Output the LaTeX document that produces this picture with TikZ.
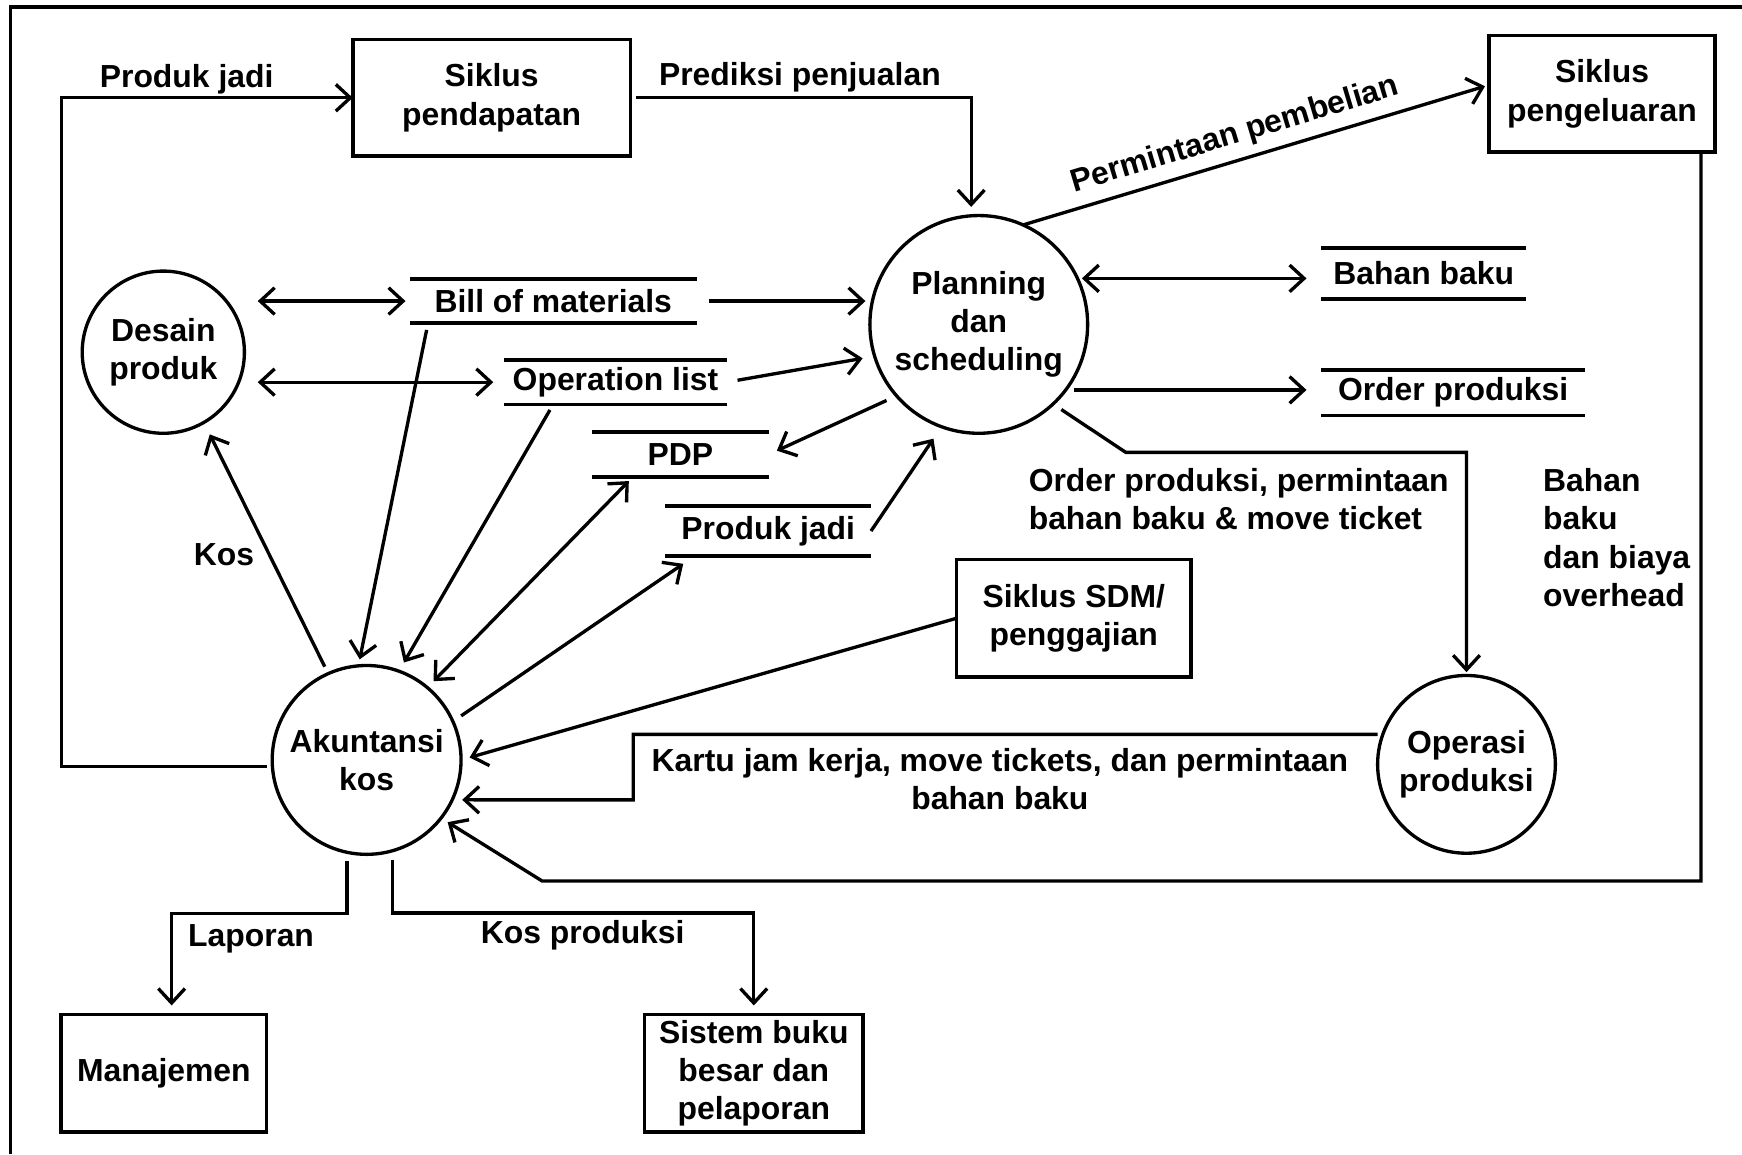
\documentclass[tikz,border=0pt]{standalone}
\usepackage{fontspec}
\setmainfont{Liberation Sans}
\usetikzlibrary{arrows.meta,calc}
\begin{document}
\begin{tikzpicture}[x=1pt,y=-1pt,line width=3pt,
  >={Straight Barb[length=13pt,width=24pt]},
  every node/.style={font=\fontsize{28.7pt}{34.5pt}\selectfont\bfseries, inner sep=0pt, outer sep=0pt},
  proc/.style={draw, circle, line width=3pt, minimum size=#1, align=center},
  ent/.style={draw, rectangle, line width=3.2pt, align=center},
  store/.style={align=center},
  storeline/.style={line width=3.4pt},
  lbl/.style={anchor=base},
]
\useasboundingbox (0,0) rectangle (1568,1039);

% outer frame
\draw[line width=3.4pt] (9.5,1039) -- (9.5,6.5) -- (1568,6.5);

% external entities
\node[ent, minimum width=250pt, minimum height=105pt] (pend) at (442.5,88) {Siklus\\pendapatan};
\node[ent, minimum width=203pt, minimum height=105pt] (peng) at (1442,84.5) {Siklus\\pengeluaran};
\node[ent, minimum width=211pt, minimum height=106pt] (sdm) at (966.5,556.5) {Siklus SDM/\\penggajian};
\node[ent, minimum width=185pt, minimum height=106pt] (man) at (147.5,966) {Manajemen};
\node[ent, minimum width=197pt, minimum height=106pt] (sbb) at (678.5,966) {Sistem buku\\besar dan\\pelaporan};

% processes
\node[proc=196pt] (plan) at (881,292) {Planning\\dan\\scheduling};
\node[proc=146pt] (desain) at (147,317) {Desain\\produk};
\node[proc=170pt] (akun) at (330,684) {Akuntansi\\kos};
\node[proc=160pt] (ops) at (1320,688) {Operasi\\produksi};

% data stores
\node[store, minimum width=258pt, minimum height=40pt] (bom) at (498,271) {Bill of materials};
\node[store, minimum width=200pt, minimum height=40pt] (opl) at (554,344) {Operation list};
\node[store, minimum width=159pt, minimum height=40pt] (pdp) at (612.5,409) {PDP};
\node[store, minimum width=185pt, minimum height=45pt] (pj) at (691.5,478) {Produk jadi};
\node[store, minimum width=185pt, minimum height=46pt] (bb) at (1281.5,246) {Bahan baku};
\node[store, minimum width=238pt, minimum height=41pt] (op) at (1308,353.5) {Order produksi};
\foreach \s in {bom,opl,pdp,pj,bb,op}
  \draw[storeline] (\s.north west) -- (\s.north east) (\s.south west) -- (\s.south east);

% finished goods to revenue cycle
\draw[->, shorten <=5pt] (akun.184) -- ++(-190,0) |- (pend.west);
\node[lbl] (lpj) at (168,78.6) {Produk jadi};

% sales forecast
\draw[->, shorten <=5pt, shorten >=8pt] (pend.east) -| (plan.94);
\node[lbl] (lpred) at (720,77.4) {Prediksi penjualan};

% purchase requisition
\draw[->, shorten >=4pt] (plan.66) -- ([yshift=8pt]peng.west)
  node[pos=.47, sloped, above=9pt] {Permintaan pembelian};

% materials and overhead
\draw[->, shorten >=7pt] ([xshift=-12.5pt]peng.south east) -- ++(0,656) -- ++(-1043,0) -- (akun.322);
\node[anchor=west, align=left] (lbb) at (1389,484) {Bahan\\baku\\dan biaya\\overhead};

% operations to cost accounting
\draw[->, shorten >=9pt] ([yshift=27pt]ops.west) -- ++(-670,0) -- ++(0,59) -- (akun.335);
\node[align=center] (lkartu) at (900,701) {Kartu jam kerja, move tickets, dan permintaan\\bahan baku};

% payroll
\draw[->, shorten >=8pt] (sdm.west) -- (akun.east);

% store links of cost accounting
\draw[->, shorten <=9pt] (akun.24) -- ([xshift=16pt,yshift=-7pt]pj.south west);
\draw[<->, shorten <=8pt] (akun.50) -- ([xshift=33pt,yshift=-4pt]pdp.south west);
\draw[->, shorten >=9pt] ([xshift=41pt,yshift=-5pt]opl.south west) -- (akun.70);
\draw[->, shorten >=6pt] ([xshift=15pt,yshift=-6pt]bom.south west) -- (akun.95);

% costs to product design
\draw[->, shorten <=7pt, shorten >=12pt] (akun.114) -- (desain.300);
\node[lbl] (lkos) at (201.6,509) {Kos};

% product design and stores
\draw[<->, shorten <=12pt, shorten >=4pt] (desain.east |- bom.west) -- (bom.west);
\draw[<->, shorten <=12pt, shorten >=10pt] (desain.east |- opl.west) -- (opl.west);

% planning links
\draw[->, shorten <=11pt, shorten >=4pt] (bom.east) -- (plan.west |- bom.east);
\draw[->, shorten <=10pt, shorten >=11pt] (opl.east) -- (plan.197);
\draw[->, shorten <=10pt, shorten >=8pt] (plan.221) -- (pdp.east);
\draw[->, shorten >=13pt] (pj.east) -- (plan.250);
\draw[<->, shorten <=4pt, shorten >=13pt] (plan.25) -- (plan.25 -| bb.west);
\draw[->, shorten <=7pt, shorten >=13pt] (plan.323) -- (plan.323 -| op.west);

% orders to production
\draw[->, shorten <=9pt, shorten >=3pt] (plan.313) -- ++(65.5,43.5) -| (ops.north);
\node[anchor=west, align=left] (lorder) at (926,449) {Order produksi, permintaan\\bahan baku \& move ticket};

% reports
\draw[->, shorten <=8pt, shorten >=8pt] (akun.258) -- ++(0,55) -| ([xshift=7pt]man.north);
\node[lbl] (llap) at (226,852) {Laporan};
\draw[->, shorten <=8pt, shorten >=8pt] (akun.286) -- ++(0,56) -| (sbb.north);
\node[lbl] (lkp) at (524.5,849.6) {Kos produksi};
\end{tikzpicture}
\end{document}
